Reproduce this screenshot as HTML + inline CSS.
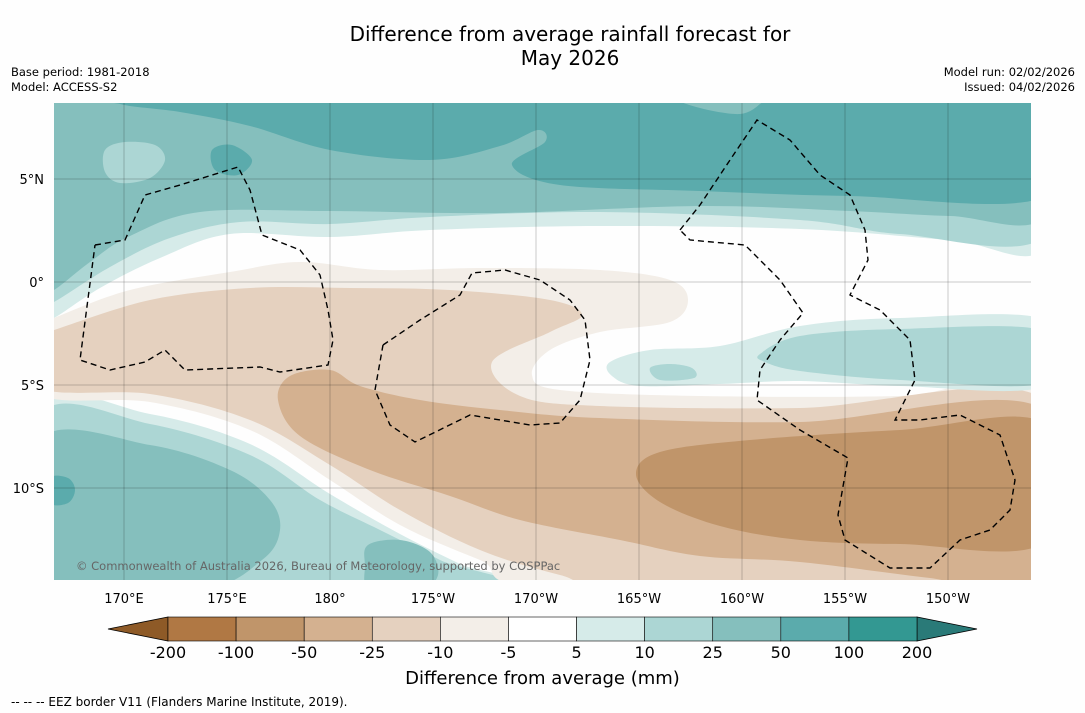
<!DOCTYPE html>
<html><head><meta charset="utf-8">
<style>
body{margin:0;background:#fff;font-family:"DejaVu Sans","Liberation Sans",sans-serif;}
#wrap{position:relative;width:1085px;height:713px;overflow:hidden;background:#fefefe}
.t{position:absolute;white-space:nowrap;color:#000}
</style></head><body>
<div id="wrap">
<div class="t" style="left:0;width:1140px;top:22px;text-align:center;font-size:20px;line-height:24px">Difference from average rainfall forecast for<br>May 2026</div>
<div class="t" style="left:11px;top:65px;font-size:11.5px;line-height:15px">Base period: 1981-2018<br>Model: ACCESS-S2</div>
<div class="t" style="right:10px;top:65px;font-size:11.5px;line-height:15px;text-align:right">Model run: 02/02/2026<br>Issued: 04/02/2026</div>
<svg id="map" width="1085" height="713" style="position:absolute;left:0;top:0">
<defs><clipPath id="clip"><rect x="54" y="103" width="977" height="477"/></clipPath></defs>
<g id="fills" clip-path="url(#clip)"></g>
<g id="eez" clip-path="url(#clip)"></g>
<g id="grid"></g>
<g id="cbar"></g>
</svg>
<div class="t" style="left:76px;top:559px;font-size:11.5px;color:#666">© Commonwealth of Australia 2026, Bureau of Meteorology, supported by COSPPac</div>
<div class="t" style="left:0;width:1085px;top:668px;text-align:center;font-size:18px">Difference from average (mm)</div>
<div class="t" style="left:11px;top:695px;font-size:12px">--  --  -- EEZ border V11 (Flanders Marine Institute, 2019).</div>
</div>
<script>
const levelLabels=["-200","-100","-50","-25","-10","-5","5","10","25","50","100","200"];
const binColors=["#b07844","#c0956a","#d4b190","#e5d1bf","#f3eee8","#ffffff","#d6ebe9","#acd6d4","#85bfbd","#5babac","#339892"];
const extColors=["#8e5a27","#2a7a78"];
const lonTicks=[170,175,180,185,190,195,200,205,210];
const lonLabels=["170°E","175°E","180°","175°W","170°W","165°W","160°W","155°W","150°W"];
const latTicks=[5,0,-5,-10];
const latLabels=["5°N","0°","5°S","10°S"];
const NS="http://www.w3.org/2000/svg";
const X=lon=>124+(lon-170)*20.6, Y=lat=>282-lat*20.6;
function mk(tag,attrs,parent){const e=document.createElementNS(NS,tag);for(const k in attrs)e.setAttribute(k,attrs[k]);parent.appendChild(e);return e;}
function smooth(p){let d=`M${p[0][0]},${p[0][1]}`;const n=p.length;
 for(let i=0;i<n;i++){const p0=p[(i-1+n)%n],p1=p[i],p2=p[(i+1)%n],p3=p[(i+2)%n];
  d+=` C${p1[0]+(p2[0]-p0[0])/6},${p1[1]+(p2[1]-p0[1])/6} ${p2[0]-(p3[0]-p1[0])/6},${p2[1]-(p3[1]-p1[1])/6} ${p2[0]},${p2[1]}`;}
 return d+"Z";}
const regions=[
 ["band-5-10-north",6,[[40,90],[40,320],[54,318],[100,288],[160,258],[230,234],[330,237],[430,230],[600,226],[800,229],[950,240],[1045,246],[1045,90]]],
 ["band-10-25-north",7,[[40,90],[40,305],[54,302],[110,267],[170,238],[240,222],[330,224],[430,217],[600,212],[800,220],[900,234],[1045,236],[1045,90]]],
 ["band-25-50-north",8,[[40,90],[40,292],[54,290],[90,262],[130,236],[200,212],[330,211],[500,213],[700,206],[850,211],[950,216],[1045,216],[1045,90]]],
 ["band-50-100-north",9,[[100,90],[120,104],[180,112],[250,126],[330,150],[430,160],[500,146],[538,130],[545,142],[512,165],[560,185],[700,191],[850,196],[1045,196],[1045,90]]],
 ["patch-top-right",8,[[680,98],[700,108],[740,114],[760,104],[760,98]]],
 ["patch-light-nw",7,[[105,150],[125,142],[155,145],[165,160],[150,178],[120,183],[105,172]]],
 ["patch-dark-nw",9,[[212,150],[232,145],[252,160],[238,175],[215,170]]],
 ["band-5-10-south",6,[[40,406],[150,414],[250,444],[330,494],[400,534],[460,564],[515,590],[40,590]]],
 ["band-10-25-south",7,[[40,415],[150,424],[250,455],[320,500],[380,530],[440,560],[495,590],[40,590]]],
 ["band-25-50-south",8,[[40,440],[150,445],[230,470],[270,500],[280,530],[262,560],[200,590],[40,590]]],
 ["patch-50-100-sw",9,[[50,478],[68,478],[75,490],[68,503],[50,503]]],
 ["patch-25-50-s",8,[[368,545],[400,540],[430,552],[438,575],[420,590],[370,590],[365,565]]],
 ["band-minus5-10",4,[[40,325],[54,318],[130,290],[230,272],[300,262],[380,270],[480,268],[600,270],[670,280],[688,300],[670,322],[600,332],[550,350],[532,375],[560,390],[700,396],[900,396],[1045,388],[1045,595],[560,590],[480,560],[400,525],[330,480],[250,430],[150,402],[40,394]]],
 ["band-minus10-25",3,[[40,335],[54,330],[150,300],[250,288],[350,288],[450,290],[550,300],[582,315],[550,332],[492,362],[520,396],[600,406],[800,408],[1045,400],[1045,595],[640,590],[560,575],[480,550],[400,510],[330,465],[250,420],[150,394],[40,388]]],
 ["band-minus25-50",2,[[278,400],[290,376],[330,370],[360,386],[420,400],[500,410],[600,418],[800,422],[1045,410],[1045,590],[930,578],[800,562],[700,556],[620,540],[520,520],[450,496],[370,470],[300,436]]],
 ["band-minus50-100",1,[[636,474],[660,452],[750,440],[900,430],[1045,424],[1045,542],[900,544],[800,540],[720,526],[660,502]]],
 ["patch-east-5-10",6,[[610,362],[650,350],[720,346],[800,326],[900,318],[1045,320],[1045,386],[900,386],[800,381],[720,384],[640,386],[612,376]]],
 ["patch-east-10-25",7,[[760,354],[800,336],[900,329],[1045,331],[1045,383],[900,380],[800,371],[765,362]]],
 ["patch-east-small",7,[[650,368],[670,364],[692,368],[694,378],[660,380]]]
];
const fills=document.getElementById('fills');
regions.forEach(r=>{const p=mk('path',{d:smooth(r[2]),fill:binColors[r[1]]},fills);
 
 });
const eezLines=[
 [[95,245],[125,240],[145,195],[180,185],[238,167],[250,190],[262,235],[300,250],[320,275],[328,310],[333,340],[328,365],[280,372],[260,367],[185,370],[165,350],[145,362],[110,370],[80,360],[95,245]],
 [[383,345],[420,320],[460,295],[472,273],[505,270],[540,280],[570,300],[585,320],[590,360],[580,400],[560,423],[530,425],[470,415],[415,442],[390,425],[375,390],[383,345]],
 [[680,230],[700,205],[730,160],[757,120],[790,140],[820,175],[850,195],[865,230],[868,260],[850,295],[880,310],[910,340],[915,380],[895,420],[920,420],[960,415],[1000,435],[1015,480],[1010,510],[990,530],[960,540],[930,568],[890,568],[845,540],[838,515],[848,458],[800,430],[757,400],[760,370],[780,340],[803,313],[780,280],[745,245],[690,240],[680,230]]
];
const eez=document.getElementById('eez');
eezLines.forEach((l,i)=>{const p=mk('polyline',{points:l.map(q=>q.join(',')).join(' '),fill:'none',stroke:'#000','stroke-width':1.4,'stroke-dasharray':'6,4'},eez);
 
 });
const grid=document.getElementById('grid');
lonTicks.forEach((lon,i)=>{const l=mk('line',{x1:X(lon),x2:X(lon),y1:103,y2:580,stroke:'#000','stroke-width':0.5,'stroke-opacity':0.4},grid);
 
 
 const t=mk('text',{x:X(lon),y:603,'text-anchor':'middle','font-size':13,'font-family':'DejaVu Sans, sans-serif'},grid);t.textContent=lonLabels[i];
 
 });
latTicks.forEach((lat,i)=>{const l=mk('line',{x1:54,x2:1031,y1:Y(lat),y2:Y(lat),stroke:'#000','stroke-width':0.5,'stroke-opacity':0.4},grid);
 
 
 const t=mk('text',{x:44,y:Y(lat)+5,'text-anchor':'end','font-size':13,'font-family':'DejaVu Sans, sans-serif'},grid);t.textContent=latLabels[i];
 
 });
const cb=document.getElementById('cbar');
const cx0=168,cx1=917,cy0=617,cy1=641,bw=(cx1-cx0)/binColors.length;
let t1=mk('polygon',{points:`${cx0},${cy0} ${cx0},${cy1} 108,629`,fill:extColors[0],stroke:'#000','stroke-width':0.8},cb);


let t2=mk('polygon',{points:`${cx1},${cy0} ${cx1},${cy1} 977,629`,fill:extColors[1],stroke:'#000','stroke-width':0.8},cb);


binColors.forEach((c,i)=>{const r=mk('rect',{x:cx0+i*bw,y:cy0,width:bw,height:cy1-cy0,fill:c,stroke:'#000','stroke-width':0.6},cb);
 
 });
levelLabels.forEach((s,i)=>{const t=mk('text',{x:cx0+i*bw,y:658,'text-anchor':'middle','font-size':16,'font-family':'DejaVu Sans, sans-serif'},cb);t.textContent=s;
 
 });
</script>
</body></html>
